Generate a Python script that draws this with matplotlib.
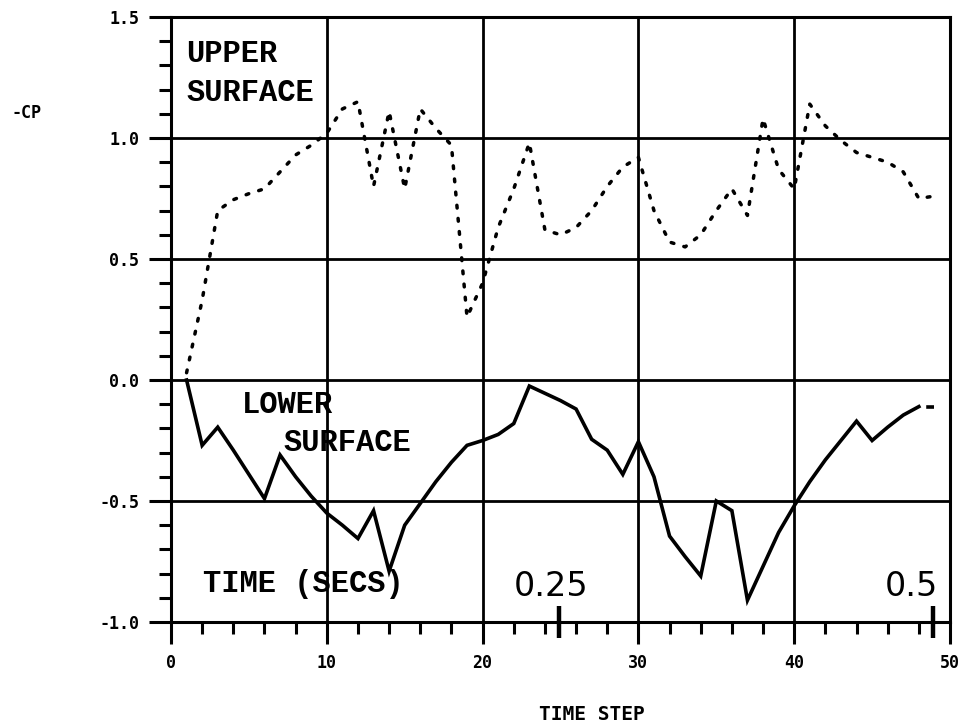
import matplotlib
matplotlib.use('Agg')
import matplotlib.pyplot as plt
from matplotlib.ticker import MultipleLocator
import numpy as np

# time steps and -Cp values
steps = list(range(1, 50))
upper = [0.03, 0.33, 0.70, 0.745, 0.77, 0.79, 0.86, 0.93, 0.97, 1.02,
         1.12, 1.15, 0.80, 1.11, 0.79, 1.12, 1.04, 0.97, 0.26, 0.40,
         0.63, 0.79, 0.98, 0.62, 0.60, 0.63, 0.70, 0.80, 0.88, 0.92,
         0.70, 0.57, 0.55, 0.60, 0.70, 0.79, 0.68, 1.08, 0.87, 0.79,
         1.14, 1.05, 0.99, 0.94, 0.92, 0.90, 0.86, 0.75, 0.76]
lower = [0.0, -0.27, -0.195, -0.29, -0.39, -0.49, -0.31, -0.40, -0.48, -0.55,
         -0.60, -0.655, -0.54, -0.79, -0.60, -0.51, -0.42, -0.34, -0.27, -0.25,
         -0.225, -0.18, -0.025, -0.055, -0.085, -0.12, -0.245, -0.29, -0.39, -0.255,
         -0.40, -0.645, -0.73, -0.81, -0.50, -0.54, -0.91, -0.77, -0.63, -0.52,
         -0.42, -0.33, -0.25, -0.17, -0.25, -0.195, -0.145, -0.11, -0.11]

# seconds marks on the time axis
sec_steps = [24.9, 48.9]
sec_labels = ['0.25', '0.5']

xticks = [0, 10, 20, 30, 40, 50]
yticks = [-1.0, -0.5, 0.0, 0.5, 1.0, 1.5]

fig = plt.figure(figsize=(9.66, 7.27), dpi=100)
ax = fig.add_axes([171/966, 1-622/727, (950-171)/966, (622-17)/727])

ax.plot(steps, upper, color='black', lw=2.5, linestyle=(0, (0.8, 3)),
        dash_capstyle='round')
ax.plot(steps[:-1], lower[:-1], color='black', lw=2.6, solid_joinstyle='miter')
ax.plot(steps[-2:], lower[-2:], color='black', lw=2.6, linestyle=(0, (0, 2, 2.3, 5)))

ax.set_xlim(0, 50)
ax.set_ylim(-1.0, 1.5)
ax.set_xticks(xticks)
ax.set_yticks(yticks)
ax.set_xticklabels([str(v) for v in xticks])
ax.set_yticklabels(['%.1f' % v for v in yticks])
ax.xaxis.set_minor_locator(MultipleLocator(2))
ax.yaxis.set_minor_locator(MultipleLocator(0.1))
ax.grid(True, which='major', color='black', lw=2.0)
for s in ax.spines.values():
    s.set_linewidth(2.2)
ax.tick_params(which='major', direction='out', length=16, width=2.2, pad=7,
               labelsize=12, colors='black')
ax.tick_params(which='minor', direction='out', length=8.5, width=2.2)
for lab in ax.get_xticklabels() + ax.get_yticklabels():
    lab.set_family('DejaVu Sans Mono')
    lab.set_weight('bold')

# thick marks for seconds
ax.vlines(sec_steps, -0.026, 0.026, transform=ax.get_xaxis_transform(),
          color='black', lw=3.2, clip_on=False)

mono = dict(family='Liberation Mono', weight='bold', fontsize=22, color='black')
ax.text(0.02, 0.939, 'UPPER', transform=ax.transAxes, va='center', ha='left', **mono)
ax.text(0.02, 0.874, 'SURFACE', transform=ax.transAxes, va='center', ha='left', **mono)
ax.text(0.091, 0.359, 'LOWER', transform=ax.transAxes, va='center', ha='left', **mono)
ax.text(0.144, 0.296, 'SURFACE', transform=ax.transAxes, va='center', ha='left', **mono)
ax.text(0.041, 0.063, 'TIME (SECS)', transform=ax.transAxes, va='center', ha='left', **mono)

ax.text(0.488, 0.058, sec_labels[0], transform=ax.transAxes, va='center', ha='center',
        family='DejaVu Sans', fontsize=24)
ax.text(0.950, 0.058, sec_labels[1], transform=ax.transAxes, va='center', ha='center',
        family='DejaVu Sans', fontsize=24)

fig.text(12/966, 1-113/727, '-CP', family='DejaVu Sans Mono', weight='bold',
         fontsize=12, va='center', ha='left')
fig.text(592/966, 1-715/727, 'TIME STEP', family='DejaVu Sans Mono', weight='bold',
         fontsize=14, va='center', ha='center')

fig.savefig('out.png', dpi=100, facecolor='white')
